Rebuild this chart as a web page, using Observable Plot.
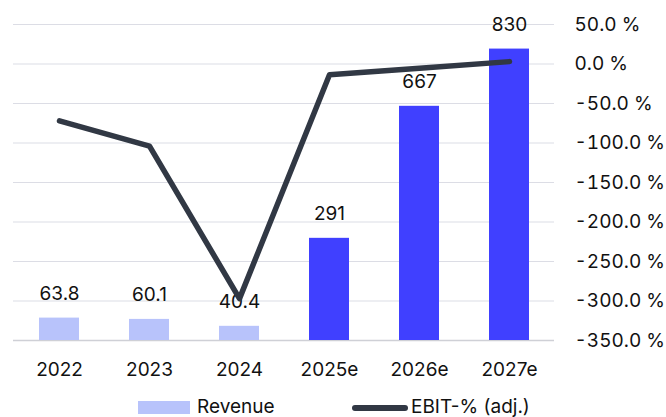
<!DOCTYPE html>
<html>
<head>
<meta charset="utf-8">
<script src="https://cdn.jsdelivr.net/npm/d3@7"></script>
<script src="https://cdn.jsdelivr.net/npm/@observablehq/plot@0.6"></script>
<style>
  html, body { margin: 0; padding: 0; background: #fff; }
  body { font-family: Inter, "Liberation Sans", Arial, sans-serif; }
  #wrap { position: relative; width: 666px; height: 417px; }
  #legend { position: absolute; left: 0; top: 392px; width: 666px; height: 25px; font-size: 19px; color: #111; }
  .sw-bar { position: absolute; left: 138px; top: 9px; width: 52px; height: 13px; background: #b8c3fb; }
  .sw-line { position: absolute; left: 352px; top: 13px; width: 56px; height: 6px; border-radius: 3px; background: #313844; }
  .lab { position: absolute; top: 2px; line-height: 25px; white-space: nowrap; }
</style>
</head>
<body>
<div id="wrap">
  <div id="chart"></div>
  <div id="legend">
    <div class="sw-bar"></div><div class="lab" style="left:197px">Revenue</div>
    <div class="sw-line"></div><div class="lab" style="left:411px">EBIT-% (adj.)</div>
  </div>
</div>
<script>
const years = ["2022", "2023", "2024", "2025e", "2026e", "2027e"];
const revenue = [63.8, 60.1, 40.4, 291, 667, 830];
const ebitPct = [-72, -104, -297, -13.5, -5.5, 3];
const pctTicks = [50, 0, -50, -100, -150, -200, -250, -300, -350];
const revMax = 900;

const pctMin = -350, pctMax = 50;
const revToPct = d3.scaleLinear().domain([0, revMax]).range([pctMin, pctMax]);

const rows = years.map((y, i) => ({
  year: y,
  rev: revenue[i],
  revPos: revToPct(revenue[i]),
  ebit: ebitPct[i],
  est: y.endsWith("e")
}));

const H = 392;
const chart = Plot.plot({
  width: 666,
  height: H,
  marginLeft: 13,
  marginRight: 112,
  marginTop: 24,
  marginBottom: H - 340,
  style: { fontFamily: "Inter, 'Liberation Sans', Arial, sans-serif", fontSize: "19px", color: "#111", background: "#fff" },
  x: { domain: years, paddingInner: 0.556, paddingOuter: 0.28, label: null },
  y: { domain: [pctMin, pctMax], label: null },
  marks: [
    Plot.gridY(pctTicks.filter(d => d !== pctMin), { stroke: "#dcdde5", strokeOpacity: 1, strokeWidth: 1.2 }),
    Plot.ruleY([pctMin], { stroke: "#cfd0d6", strokeWidth: 1.6 }),
    Plot.barY(rows, { x: "year", y1: pctMin, y2: "revPos", fill: d => d.est ? "#4040ff" : "#b8c3fb" }),
    Plot.text(rows, { x: "year", y: "revPos", text: d => String(d.rev), dy: -24, fontSize: 19, fill: "#111" }),
    Plot.line(rows, { x: "year", y: "ebit", stroke: "#313844", strokeWidth: 5.5, strokeLinecap: "round", strokeLinejoin: "round" }),
    Plot.axisX({ tickSize: 0, tickPadding: 22, fontSize: 19, label: null }),
    Plot.axisY(pctTicks, { anchor: "right", tickSize: 0, tickPadding: 20, fontSize: 19, label: null, tickFormat: d => d.toFixed(1) + " %", textAnchor: "start" })
  ]
});
document.getElementById("chart").appendChild(chart);
</script>
</body>
</html>
